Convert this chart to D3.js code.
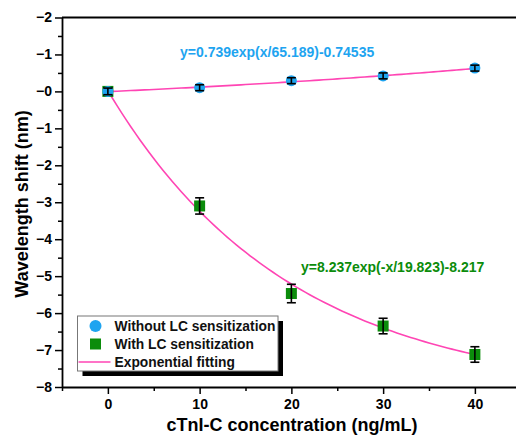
<!DOCTYPE html>
<html>
<head>
<meta charset="utf-8">
<script src="https://cdn.jsdelivr.net/npm/d3@7"></script>
<style>
  body { margin: 0; background: #fff; }
  svg text { font-family: "Liberation Sans", Arial, sans-serif; font-weight: bold; }
</style>
</head>
<body>
<svg class="chart"></svg>
<script>
var width = 516,
	height = 436;

// data
var conc = [0, 10, 20, 30, 40];
var withoutLC = [0.0, 0.10, 0.29, 0.42, 0.63];
var withoutErr = [0.09, 0.08, 0.08, 0.08, 0.08];
var withLC = [0.0, -3.10, -5.47, -6.35, -7.12];
var withErr = [0.09, 0.22, 0.25, 0.21, 0.21];

// fit parameters: y = a*exp(x/t) + c
var fitWithout = {a: 0.739, t: 65.189, c: -0.74535};
var fitWith = {a: 8.237, t: -19.823, c: -8.217};

var xTicks = [0, 10, 20, 30, 40];
var yTicks = [2, 1, 0, -1, -2, -3, -4, -5, -6, -7, -8];
var yTickLabels = ['\u22122', '\u22121', '\u22120', '\u22121', '\u22122', '\u22123', '\u22124', '\u22125', '\u22126', '\u22127', '\u22128'];

var legendNames = ['Without LC sensitization', 'With LC sensitization', 'Exponential fitting'];

var blue = '#1ea4f0',
	green = '#0b8c0b',
	pink = '#ff45b4';

var svg = d3.select('.chart')
	.attr('width', width)
	.attr('height', height);

// scales
var plotL = 62, plotR = 520.75, plotT = 17.5, plotB = 387;
var x = d3.scaleLinear().domain([-5, 45]).range([plotL, plotR]);
var y = d3.scaleLinear().domain([-8, 2]).range([plotB, plotT]);

// minor ticks
var xMinor = d3.range(-5, 46, 5).filter(d => d % 10 !== 0);
var yMinor = d3.range(-7.5, 2, 1);

svg.append('g')
	.attr('transform', 'translate(0,' + plotB + ')')
	.call(d3.axisBottom(x).tickValues(xMinor).tickSize(4).tickFormat(''))
	.call(g => g.select('.domain').remove())
	.selectAll('line').attr('stroke-width', 1.5);

svg.append('g')
	.attr('transform', 'translate(' + plotL + ',0)')
	.call(d3.axisLeft(y).tickValues(yMinor).tickSize(4).tickFormat(''))
	.call(g => g.select('.domain').remove())
	.selectAll('line').attr('stroke-width', 1.5);

var xAxis = svg.append('g')
	.attr('transform', 'translate(0,' + plotB + ')')
	.call(d3.axisBottom(x).tickValues(xTicks).tickSize(7).tickSizeOuter(0).tickPadding(5));

var yAxis = svg.append('g')
	.attr('transform', 'translate(' + plotL + ',0)')
	.call(d3.axisLeft(y).tickValues(yTicks).tickSize(7).tickSizeOuter(0).tickPadding(3)
		.tickFormat((d, i) => yTickLabels[i]));

[xAxis, yAxis].forEach(function(a) {
	a.select('.domain').attr('stroke-width', 1.8);
	a.selectAll('.tick line').attr('stroke-width', 1.5);
	a.selectAll('text').attr('font-size', 14).attr('fill', '#000');
});

// top frame line
svg.append('line')
	.attr('x1', plotL).attr('x2', width)
	.attr('y1', plotT).attr('y2', plotT)
	.attr('stroke', '#000').attr('stroke-width', 1.8);

// axis titles
svg.append('text')
	.attr('x', 292)
	.attr('y', 431)
	.attr('text-anchor', 'middle')
	.attr('font-size', 18)
	.text('cTnI-C concentration (ng/mL)');

svg.append('text')
	.attr('transform', 'translate(28,204) rotate(-90)')
	.attr('text-anchor', 'middle')
	.attr('font-size', 18)
	.text('Wavelength shift (nm)');

// fit curves
var line = d3.line().x(d => x(d[0])).y(d => y(d[1]));
function fitPoints(f) {
	return d3.range(0, 40.01, 0.5).map(v => [v, f.a * Math.exp(v / f.t) + f.c]);
}

svg.append('path')
	.datum(fitPoints(fitWithout))
	.attr('d', line)
	.attr('fill', 'none')
	.attr('stroke', pink)
	.attr('stroke-width', 1.6);

svg.append('path')
	.datum(fitPoints(fitWith))
	.attr('d', line)
	.attr('fill', 'none')
	.attr('stroke', pink)
	.attr('stroke-width', 1.6);

// error bars
function errorBars(vals, errs) {
	var g = svg.append('g').attr('stroke', '#000').attr('stroke-width', 1.6);
	conc.forEach(function(c, i) {
		var cx = x(c), y1 = y(vals[i] + errs[i]), y2 = y(vals[i] - errs[i]);
		g.append('line').attr('x1', cx).attr('x2', cx).attr('y1', y1).attr('y2', y2);
		g.append('line').attr('x1', cx - 4.5).attr('x2', cx + 4.5).attr('y1', y1).attr('y2', y1);
		g.append('line').attr('x1', cx - 4.5).attr('x2', cx + 4.5).attr('y1', y2).attr('y2', y2);
	});
}

// green squares
svg.selectAll('.sq')
	.data(withLC)
	.enter()
	.append('rect')
	.attr('x', (d, i) => x(conc[i]) - 5.5)
	.attr('y', d => y(d) - 5.5)
	.attr('width', 11)
	.attr('height', 11)
	.attr('fill', green);
errorBars(withLC, withErr);

// blue circles
svg.selectAll('.dot')
	.data(withoutLC)
	.enter()
	.append('circle')
	.attr('cx', (d, i) => x(conc[i]))
	.attr('cy', d => y(d))
	.attr('r', 5.5)
	.attr('fill', blue);
errorBars(withoutLC, withoutErr);

// fit equations
svg.append('text')
	.attr('x', 180)
	.attr('y', 57)
	.attr('font-size', 14)
	.attr('fill', blue)
	.text('y=0.739exp(x/65.189)-0.74535');

svg.append('text')
	.attr('x', 301)
	.attr('y', 272)
	.attr('font-size', 14)
	.attr('fill', green)
	.text('y=8.237exp(-x/19.823)-8.217');

// legend
var lg = svg.append('g').attr('transform', 'translate(77.5,316)');
lg.append('rect')
	.attr('x', 5).attr('y', 5)
	.attr('width', 200.5).attr('height', 55)
	.attr('fill', '#000');
lg.append('rect')
	.attr('width', 200.5).attr('height', 55)
	.attr('fill', '#fff')
	.attr('stroke', '#777').attr('stroke-width', 1);

var items = lg.selectAll('.item')
	.data(legendNames)
	.enter()
	.append('g')
	.attr('transform', (d, i) => 'translate(0,' + (10 + i * 18) + ')');

items.append('text')
	.attr('x', 37)
	.attr('y', 5)
	.attr('font-size', 13.8)
	.attr('fill', '#111')
	.text(d => d);

items.filter((d, i) => i === 0).append('circle')
	.attr('cx', 18).attr('cy', 0).attr('r', 6).attr('fill', blue);
items.filter((d, i) => i === 1).append('rect')
	.attr('x', 12.5).attr('y', -5.5).attr('width', 11).attr('height', 11).attr('fill', green);
items.filter((d, i) => i === 2).append('line')
	.attr('x1', 1).attr('x2', 33).attr('y1', 0).attr('y2', 0)
	.attr('stroke', pink).attr('stroke-width', 1.6);
</script>
</body>
</html>
